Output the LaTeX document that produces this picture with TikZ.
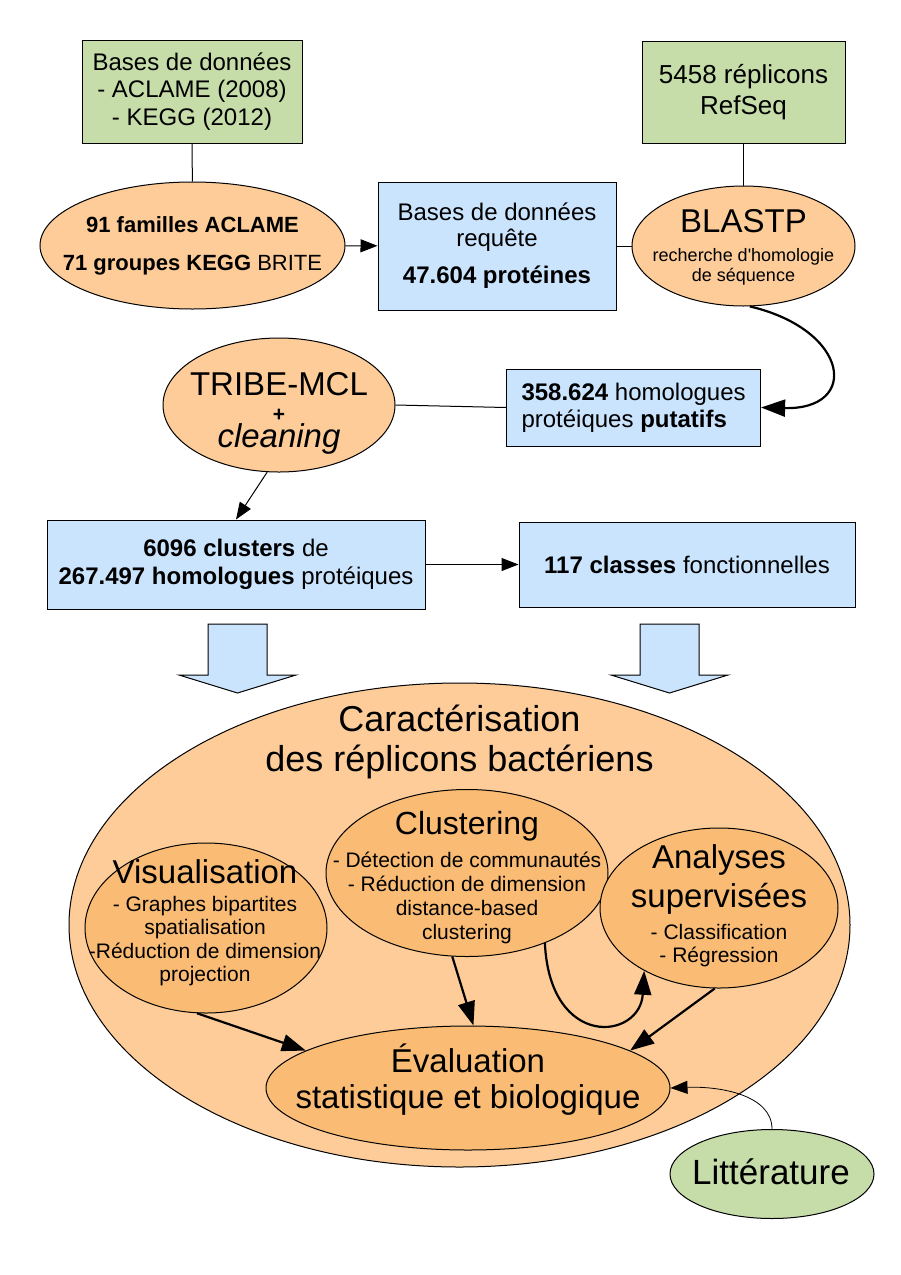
\documentclass[tikz,border=0pt]{standalone}
\usepackage{fontspec}
\setmainfont{Liberation Sans}[Ligatures=TeXOff]
\usetikzlibrary{shapes.geometric,arrows.meta}

\definecolor{vert}{RGB}{198,220,169}
\definecolor{bleu}{RGB}{203,228,253}
\definecolor{orangeclair}{RGB}{253,204,153}
\definecolor{orangefonce}{RGB}{250,188,116}
\newcommand{\fs}[2]{\fontsize{#1}{#2}\selectfont\lineskiplimit=-100pt\relax}

\tikzset{
  base/.style={draw=black, line width=1pt, inner sep=0pt, align=center, text=black},
  vertbox/.style={base, rectangle, fill=vert},
  bleubox/.style={base, rectangle, fill=bleu},
  ell/.style={base, ellipse, fill=orangeclair},
  ellin/.style={base, ellipse, fill=orangefonce},
  texte/.style={inner sep=0pt, align=center, text=black},
  lien/.style={line width=1pt},
  fleche/.style={line width=1pt, -{Triangle[length=17pt,width=13pt]}},
  grossefleche/.style={line width=2.2pt, -{Triangle[length=24pt,width=17pt]}},
}

\begin{document}
\begin{tikzpicture}[x=1pt,y=-1pt]
        \useasboundingbox (0,0) rectangle (901,1275);

        % sources
        \node[vertbox, minimum width=220pt, minimum height=103pt, font=\fs{24}{27.5}] (bdd) at (192,91.5)
          {Bases de données\\- ACLAME (2008)\\- KEGG (2012)};
        \node[vertbox, minimum width=203pt, minimum height=102pt, font=\fs{26}{31}] (refseq) at (743.5,92)
          {5458 réplicons\\RefSeq};

        \node[ell, minimum width=305pt, minimum height=127pt] (familles) at (192.5,245.5) {};
        \node[texte, font=\fs{22}{38}] (familles-t) at (192.5,246.3)
          {\textbf{91 familles ACLAME}\\\textbf{71 groupes KEGG} BRITE};
        \node[bleubox, minimum width=238pt, minimum height=128pt, font=\fs{24}{26}] (requete) at (497,246)
          {Bases de données\\requête\\[11pt]\textbf{47.604 protéines}};
        \node[ell, minimum width=223pt, minimum height=120pt] (blastp) at (743.5,246) {};
        \node[texte, font=\fs{18}{20}] (blastp-t) at (743.5,247.6)
          {{\fs{33}{36}BLASTP}\\[9pt]recherche d'homologie\\de séquence};

        \node[ell, minimum width=232pt, minimum height=134pt] (tribe) at (279,405) {};
        \node[texte, font=\fs{33}{26}] (tribe-t) at (279,413.5)
          {TRIBE-MCL\\{\fs{21}{26}\textbf{+}}\\\textit{cleaning}};
        \node[bleubox, minimum width=254pt, minimum height=77pt, align=left, font=\fs{24}{27}] (homol) at (633.6,407.5)
          {\textbf{358.624} homologues\\protéiques \textbf{putatifs}};

        \node[bleubox, minimum width=378pt, minimum height=89pt, font=\fs{24}{28.5}] (clusters) at (236,564.5)
          {\textbf{6096 clusters} de\\\textbf{267.497 homologues} protéiques};
        \node[bleubox, minimum width=336pt, minimum height=85pt, font=\fs{24}{27}] (classes) at (687,564.5)
          {\textbf{117 classes} fonctionnelles};

        \draw[lien] (bdd) -- (familles);
        \draw[lien] (refseq) -- (blastp);
        \draw[fleche] (familles) -- (requete);
        \draw[lien] (requete) -- (blastp);
        \draw[grossefleche] (blastp.-84) .. controls (850,330) and (860,410) .. (homol.east);
        \draw[lien] (tribe.east) -- (homol.west);
        \draw[fleche] (tribe.-100) -- (clusters.north);
        \draw[fleche] (clusters.east) -- (classes.west);

        % grosses fleches
        \foreach \x in {237.5,669.5}{
          \draw[line width=1pt, fill=bleu] ({\x-29.5},624) -- ({\x+29.5},624) -- ({\x+29.5},675)
            -- ({\x+58.5},675) -- (\x,693) -- ({\x-58.5},675) -- ({\x-29.5},675) -- cycle;
        }

        % caracterisation
        \node[ell, minimum width=781pt, minimum height=484pt] (caract) at (459.5,925) {};
        \node[texte, font=\fs{36}{40}] (titre) at (459.5,742)
          {Caractérisation\\des réplicons bactériens};

        \node[ellin, minimum width=242pt, minimum height=170pt] (visu) at (206,928) {};
        \node[texte, font=\fs{21}{23.5}] (visu-t) at (205,922.5)
          {{\fs{33}{36}Visualisation}\\[4.5pt]- Graphes bipartites\\spatialisation\\-Réduction de dimension\\projection};
        \node[ellin, minimum width=282pt, minimum height=167pt] (clust) at (467,873) {};
        \node[texte, font=\fs{21}{24}] (clust-t) at (467,878)
          {{\fs{32}{36}Clustering}\\[9pt]- Détection de communautés\\- Réduction de dimension\\distance-based\\clustering};
        \node[ellin, minimum width=238pt, minimum height=160pt] (superv) at (719,908) {};
        \node[texte, font=\fs{21}{23.5}] (superv-t) at (719,905.5)
          {{\fs{33}{38}Analyses}\\[15.5pt]{\fs{33}{38}supervisées}\\[8.5pt]- Classification\\- Régression};

        \node[ellin, minimum width=404pt, minimum height=124pt] (eval) at (468,1088) {};
        \node[texte, font=\fs{33}{36}] (eval-t) at (468,1079.5)
          {Évaluation\\statistique et biologique};

        \node[base, ellipse, fill=vert, minimum width=204pt, minimum height=89pt] (litt) at (772,1174) {};
        \node[texte, font=\fs{35}{40}] (litt-t) at (771,1171.5) {Littérature};

        \draw[grossefleche] (visu.-96) -- (eval.167);
        \draw[grossefleche] (clust.-100) -- (eval.85);
        \draw[grossefleche] (clust.-42) .. controls (550,1050) and (640,1040) .. (superv.-140);
        \draw[grossefleche] (superv.-93) -- (eval.13);
        \draw[fleche, line width=0.8pt] (litt.north) .. controls (772,1095) and (720,1086) .. (eval.east);

      \end{tikzpicture}
\end{document}
